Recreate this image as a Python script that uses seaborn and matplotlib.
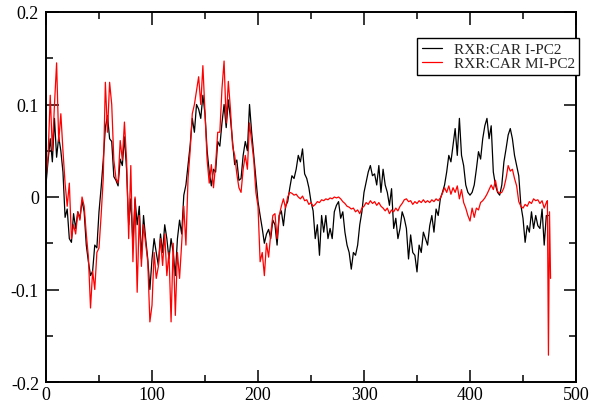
import numpy as np
import pandas as pd
import matplotlib
matplotlib.use("Agg")
import matplotlib.pyplot as plt
from matplotlib.ticker import MultipleLocator, FuncFormatter
import seaborn as sns

# ---------------- data ----------------
series_labels = ["RXR:CAR I-PC2", "RXR:CAR MI-PC2"]

# I-PC2, frames 0..474 step 2
ipc2_values = [
    0.014, 0.04, 0.063, 0.038, 0.085, 0.043, 0.065, 0.05, 0.027, -0.022,
    -0.013, -0.045, -0.049, -0.018, -0.034, -0.016, -0.023, -0.004, -0.016, -0.052,
    -0.07, -0.085, -0.08, -0.052, -0.055, -0.016, 0.01, 0.04, 0.075, 0.088,
    0.063, 0.06, 0.022, 0.018, 0.012, 0.041, 0.034, 0.065, 0.03, -0.03,
    -0.002, -0.052, -0.002, -0.03, -0.01, -0.067, -0.02, -0.045, -0.067, -0.1,
    -0.067, -0.045, -0.06, -0.074, -0.04, -0.06, -0.03, -0.045, -0.067, -0.045,
    -0.06, -0.085, -0.045, -0.025, -0.04, 0.002, 0.013, 0.034, 0.056, 0.085,
    0.07, 0.1, 0.095, 0.085, 0.11, 0.09, 0.05, 0.027, 0.012, 0.03,
    0.027, 0.06, 0.055, 0.08, 0.1, 0.075, 0.105, 0.085, 0.06, 0.035,
    0.04, 0.018, 0.02, 0.045, 0.06, 0.05, 0.1, 0.07, 0.045, 0.02,
    -0.005, -0.02, -0.034, -0.05, -0.04, -0.035, -0.045, -0.025, -0.03, -0.052,
    -0.02, -0.015, -0.031, -0.01, -0.005, 0.01, 0.023, 0.02, 0.03, 0.045,
    0.038, 0.052, 0.025, 0.02, 0.01, -0.005, -0.015, -0.045, -0.03, -0.063,
    -0.02, -0.038, -0.02, -0.045, -0.034, -0.045, -0.016, -0.009, -0.005, -0.023,
    -0.016, -0.038, -0.052, -0.06, -0.078, -0.06, -0.063, -0.052, -0.03, -0.016,
    0.005, 0.016, 0.027, 0.034, 0.023, 0.025, 0.013, 0.034, 0.005, 0.03,
    0.013, 0.005, -0.009, 0.009, -0.034, -0.023, -0.045, -0.034, -0.016, -0.023,
    -0.034, -0.067, -0.041, -0.06, -0.063, -0.081, -0.052, -0.06, -0.038, -0.045,
    -0.052, -0.031, -0.02, -0.038, -0.013, -0.02, -0.002, 0.005, 0.013, 0.027,
    0.045, 0.038, 0.056, 0.074, 0.045, 0.085, 0.045, 0.034, 0.013, 0.005,
    0.002, 0.005, 0.013, 0.03, 0.049, 0.041, 0.063, 0.077, 0.085, 0.063,
    0.077, 0.027, 0.013, 0.005, 0.002, 0.013, 0.038, 0.052, 0.067, 0.074,
    0.063, 0.045, 0.034, 0.023, -0.009, -0.023, -0.049, -0.031, -0.038, -0.016,
    -0.034, -0.02, -0.031, -0.034, -0.013, -0.052, -0.02, -0.02,
]
ipc2_frames = list(range(0, 2 * len(ipc2_values), 2))

# MI-PC2, frames 0..472 step 2, then the final frames
mipc2_values = [
    0.02, 0.045, 0.11, 0.05, 0.1, 0.145, 0.06, 0.09, 0.05, 0.015,
    -0.01, 0.015, -0.045, -0.03, -0.04, -0.016, -0.025, 0.0, -0.01, -0.04,
    -0.065, -0.12, -0.08, -0.1, -0.06, -0.055, -0.02, 0.02, 0.124, 0.07,
    0.124, 0.1, 0.04, 0.02, 0.015, 0.061, 0.04, 0.081, 0.04, -0.045,
    0.034, -0.07, 0.0, -0.103, -0.02, -0.075, -0.03, -0.05, -0.07, -0.135,
    -0.117, -0.06, -0.088, -0.075, -0.045, -0.074, -0.04, -0.085, -0.06, -0.135,
    -0.05, -0.128, -0.06, -0.088, -0.05, -0.01, -0.052, 0.02, 0.05, 0.09,
    0.1, 0.115, 0.13, 0.1, 0.142, 0.09, 0.04, 0.015, 0.035, 0.01,
    0.035, 0.07, 0.07, 0.117, 0.147, 0.08, 0.125, 0.095, 0.055, 0.045,
    0.025, 0.01, 0.005, 0.03, 0.045, 0.03, 0.08, 0.06, 0.04, 0.005,
    -0.01, -0.07, -0.06, -0.085, -0.05, -0.065, -0.04, -0.02, -0.018, -0.045,
    -0.02, -0.01, -0.002, -0.012, 0.0, 0.005, 0.004, 0.002, 0.003, 0.0,
    -0.002, 0.001, -0.004, -0.003, -0.008, -0.006, -0.01, -0.008, -0.005, -0.006,
    -0.003, -0.004, -0.002, -0.003, -0.001, -0.002, 0.0, -0.001, 0.0, -0.002,
    -0.005, -0.007, -0.01, -0.011, -0.013, -0.012, -0.016, -0.014, -0.018, -0.012,
    -0.01, -0.006, -0.008, -0.004, -0.007, -0.005, -0.009, -0.006, -0.01, -0.012,
    -0.015, -0.012, -0.018, -0.014, -0.016, -0.012, -0.015, -0.01, -0.007, -0.003,
    -0.002, -0.005, -0.004, -0.008, -0.005, -0.007, -0.004, -0.006, -0.003, -0.006,
    -0.004, -0.006, -0.003, -0.005, -0.002, -0.004, -0.001, 0.004, 0.01, 0.005,
    0.012, 0.003, 0.01, 0.005, 0.012, -0.002, 0.008, -0.006, -0.012, -0.02,
    -0.026, -0.012, -0.022, -0.012, -0.014, -0.006, -0.004, -0.001, 0.003, 0.008,
    0.013, 0.008, 0.018, 0.006, 0.004, 0.005, 0.01, 0.02, 0.034, 0.028,
    0.03, 0.02, 0.012, -0.005, -0.01, -0.012, -0.008, -0.01, -0.005, -0.007,
    -0.002, -0.004, -0.003, -0.007, -0.004, -0.012, -0.006,
]
mipc2_frames = list(range(0, 2 * len(mipc2_values), 2))
mipc2_tail_frames = [473, 474, 475, 476]
mipc2_tail_values = [-0.004, -0.171, -0.016, -0.088]

x_ticks = [0, 100, 200, 300, 400, 500]
y_ticks = [-0.2, -0.1, 0.0, 0.1, 0.2]

# ---------------- figure ----------------
sns.set_style("ticks")
plt.rcParams["font.family"] = ["Liberation Serif", "DejaVu Serif"]
plt.rcParams["axes.unicode_minus"] = False

W, H = 605, 406
fig = plt.figure(figsize=(W / 100, H / 100), dpi=100)
L, R, T, B = 46, 576, 13, 383
ax = fig.add_axes([L / W, 1 - B / H, (R - L) / W, (B - T) / H])

df_i = pd.DataFrame({"frame": ipc2_frames, "value": ipc2_values})
df_m = pd.DataFrame({"frame": mipc2_frames + mipc2_tail_frames,
                     "value": mipc2_values + mipc2_tail_values})

sns.lineplot(data=df_i, x="frame", y="value", color="black", lw=0.9,
             estimator=None, ax=ax, label=series_labels[0])
sns.lineplot(data=df_m, x="frame", y="value", color="#ff0000", lw=0.9,
             estimator=None, ax=ax, label=series_labels[1])

ax.set_xlim(0, 500)
ax.set_ylim(-0.2, 0.2)
ax.set_xticks(x_ticks)
ax.set_yticks(y_ticks)
ax.xaxis.set_minor_locator(MultipleLocator(50))
ax.yaxis.set_minor_locator(MultipleLocator(0.05))
ax.yaxis.set_major_formatter(FuncFormatter(lambda v, p: "0" if abs(v) < 1e-9 else f"{v:.1f}"))
ax.set_xlabel("")
ax.set_ylabel("")

ax.tick_params(which="both", direction="in", top=True, right=True,
               labelsize=13, width=1.1, colors="black")
ax.tick_params(which="major", length=9)
ax.tick_params(which="minor", length=5)
ax.tick_params(axis="x", pad=3)
ax.tick_params(axis="y", pad=5)
for s in ax.spines.values():
    s.set_linewidth(1.4)
    s.set_color("black")

leg = ax.legend(loc="upper left", bbox_to_anchor=(417 / W, 1 - 39 / H),
                bbox_transform=fig.transFigure, frameon=True, fancybox=False,
                shadow=False, edgecolor="black", framealpha=1, fontsize=11,
                handlelength=1.35, handletextpad=0.75, labelspacing=0.0,
                borderpad=0.3, borderaxespad=0)
leg.get_frame().set_linewidth(1.0)

fig.savefig("out.png", dpi=100)
